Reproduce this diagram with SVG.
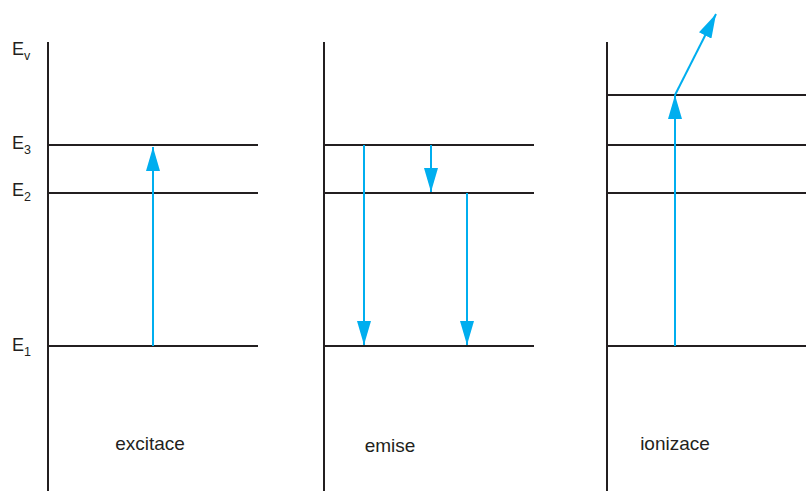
<svg xmlns="http://www.w3.org/2000/svg" width="806" height="491" viewBox="0 0 806 491">
<style>
.ax{stroke:#231f20;stroke-width:2;fill:none}
.lv{stroke:#231f20;stroke-width:2;fill:none}
.ar{stroke:#00aeef;stroke-width:2;fill:none;marker-end:url(#head)}
.lbl{font-family:"Liberation Sans",Arial,sans-serif;font-size:19px;fill:#231f20}
.e{font-family:"Liberation Sans",Arial,sans-serif;font-size:18px;fill:#231f20}
.sub{font-size:12.5px}
</style>
<defs>
<marker id="head" markerUnits="userSpaceOnUse" viewBox="0 0 24 14" refX="24" refY="7" markerWidth="24" markerHeight="14" orient="auto">
<path d="M0,0 L24,7 L0,14 z" fill="#00aeef"/>
</marker>
</defs>
<rect width="806" height="491" fill="#ffffff"/>
<g id="labels-energy">
<text class="e" x="12" y="55">E<tspan class="sub" dy="5">v</tspan></text>
<text class="e" x="12" y="149">E<tspan class="sub" dy="5">3</tspan></text>
<text class="e" x="12" y="196">E<tspan class="sub" dy="5">2</tspan></text>
<text class="e" x="12" y="351">E<tspan class="sub" dy="5">1</tspan></text>
</g>
<g id="panel-excitace">
<line class="ax" x1="48" y1="42" x2="48" y2="491"/>
<line class="lv" x1="48" y1="145" x2="258" y2="145"/>
<line class="lv" x1="48" y1="193" x2="258" y2="193"/>
<line class="lv" x1="48" y1="346" x2="258" y2="346"/>
<text class="lbl" x="150" y="450" text-anchor="middle">excitace</text>
</g>
<g id="panel-emise">
<line class="ax" x1="324" y1="42" x2="324" y2="491"/>
<line class="lv" x1="324" y1="145" x2="534" y2="145"/>
<line class="lv" x1="324" y1="193" x2="534" y2="193"/>
<line class="lv" x1="324" y1="346" x2="534" y2="346"/>
<text class="lbl" x="390" y="452" text-anchor="middle">emise</text>
</g>
<g id="panel-ionizace">
<line class="ax" x1="607" y1="42" x2="607" y2="491"/>
<line class="lv" x1="607" y1="95" x2="806" y2="95"/>
<line class="lv" x1="607" y1="145" x2="806" y2="145"/>
<line class="lv" x1="607" y1="193" x2="806" y2="193"/>
<line class="lv" x1="607" y1="346" x2="806" y2="346"/>
<text class="lbl" x="675" y="450" text-anchor="middle">ionizace</text>
</g>
<g id="connectors">
<line class="ar" x1="153" y1="346" x2="153" y2="147"/>
<line class="ar" x1="364" y1="145" x2="364" y2="345"/>
<line class="ar" x1="431" y1="145" x2="431" y2="192"/>
<line class="ar" x1="467" y1="193" x2="467" y2="345"/>
<line class="ar" x1="675" y1="346" x2="675" y2="95"/>
<line class="ar" x1="675" y1="95" x2="716" y2="14"/>
</g>
</svg>
